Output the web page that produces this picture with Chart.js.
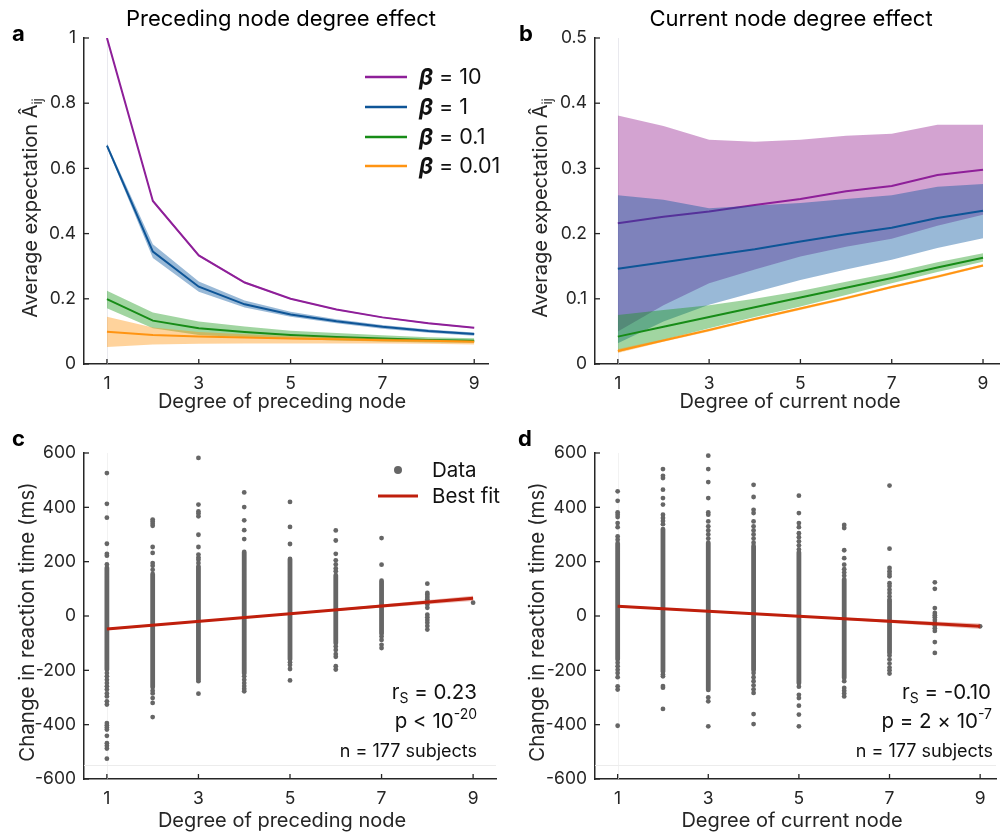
<!DOCTYPE html>
<html><head><meta charset="utf-8">
<script src="https://cdn.jsdelivr.net/npm/chart.js@4.4.0/dist/chart.umd.min.js"></script>
<style>
html,body{margin:0;padding:0;background:#fff}
body{width:1000px;height:835px;position:relative;overflow:hidden}
canvas{position:absolute}
</style></head><body>
<canvas id="ca" width="500" height="420" style="left:0;top:0"></canvas>
<canvas id="cb" width="500" height="420" style="left:500px;top:0"></canvas>
<canvas id="cc" width="500" height="415" style="left:0;top:420px"></canvas>
<canvas id="cd" width="500" height="415" style="left:500px;top:420px"></canvas>
<script>
// ---------------- DATA ----------------
const degrees = [1, 2, 3, 4, 5, 6, 7, 8, 9];
const xTicks = [1, 3, 5, 7, 9];
const yTicksA = [0, 0.2, 0.4, 0.6, 0.8, 1];
const yTicksB = [0, 0.1, 0.2, 0.3, 0.4, 0.5];
const yTicksRT = [-600, -400, -200, 0, 200, 400, 600];
const betaLabels = ['10', '1', '0.1', '0.01'];

// Panel a: preceding node degree effect
const aMean10 = [1.000, 0.500, 0.333, 0.250, 0.200, 0.167, 0.143, 0.125, 0.111];
const aLow10  = [0.997, 0.496, 0.330, 0.247, 0.198, 0.165, 0.141, 0.123, 0.109];
const aHigh10 = [1.000, 0.504, 0.336, 0.253, 0.202, 0.169, 0.145, 0.127, 0.113];
const aMean1  = [0.670, 0.345, 0.237, 0.183, 0.152, 0.131, 0.114, 0.101, 0.092];
const aLow1   = [0.664, 0.325, 0.222, 0.173, 0.145, 0.125, 0.108, 0.096, 0.087];
const aHigh1  = [0.676, 0.367, 0.253, 0.195, 0.160, 0.137, 0.120, 0.106, 0.097];
const aMean01 = [0.199, 0.133, 0.110, 0.098, 0.089, 0.083, 0.078, 0.074, 0.071];
const aLow01  = [0.171, 0.110, 0.089, 0.082, 0.077, 0.072, 0.069, 0.066, 0.065];
const aHigh01 = [0.225, 0.158, 0.130, 0.115, 0.102, 0.095, 0.088, 0.082, 0.079];
const aMean001 = [0.099, 0.089, 0.084, 0.081, 0.078, 0.076, 0.073, 0.071, 0.068];
const aLow001  = [0.052, 0.060, 0.062, 0.063, 0.063, 0.063, 0.063, 0.062, 0.060];
const aHigh001 = [0.145, 0.112, 0.098, 0.091, 0.086, 0.082, 0.078, 0.075, 0.072];

// Panel b: current node degree effect
const bMean10 = [0.216, 0.226, 0.234, 0.244, 0.253, 0.265, 0.273, 0.290, 0.298];
const bLow10  = [0.050, 0.090, 0.124, 0.145, 0.165, 0.180, 0.192, 0.212, 0.229];
const bHigh10 = [0.381, 0.365, 0.344, 0.341, 0.344, 0.350, 0.353, 0.367, 0.367];
const bMean1  = [0.146, 0.156, 0.166, 0.176, 0.188, 0.199, 0.209, 0.224, 0.235];
const bLow1   = [0.032, 0.065, 0.091, 0.110, 0.129, 0.145, 0.160, 0.178, 0.193];
const bHigh1  = [0.259, 0.252, 0.239, 0.243, 0.247, 0.253, 0.259, 0.272, 0.276];
const bMean01 = [0.042, 0.057, 0.072, 0.087, 0.102, 0.117, 0.132, 0.148, 0.163];
const bLow01  = [0.018, 0.037, 0.055, 0.072, 0.088, 0.106, 0.124, 0.141, 0.157];
const bHigh01 = [0.075, 0.083, 0.090, 0.100, 0.112, 0.126, 0.140, 0.156, 0.170];
const bMean001 = [0.020, 0.036, 0.052, 0.069, 0.085, 0.101, 0.118, 0.134, 0.151];
const bLow001  = [0.017, 0.034, 0.050, 0.067, 0.083, 0.099, 0.116, 0.132, 0.149];
const bHigh001 = [0.023, 0.038, 0.054, 0.071, 0.087, 0.103, 0.120, 0.136, 0.153];

// Panel c: change in RT vs degree of preceding node (ms)
// dense part of each column (points overlap into a solid strip): low / high
const cCoreLow  = [-198, -262, -234, -212, -160, -100, -65, null, null];
const cCoreHigh = [ 178,  155,  183,  236,  210,  150, 130, null, null];
// individual points outside the dense strip
const cPoints = [
  [526, 413, 362, 266, 229, 222, 190, -210, -222, -235, -247, -259, -271, -285, -296, -314, -326, -394, -402, -410, -418, -441, -468, -478, -488, -525],
  [355, 348, 340, 332, 254, 232, 195, 185, 170, -275, -285, -302, -320, -372],
  [582, 410, 385, 377, 367, 299, 254, 226, 215, 207, 195, -240, -286],
  [455, 401, 352, 316, 283, -222, -235, -247, -258, -268, -277],
  [420, 328, 265, -170, -180, -195, -237],
  [315, 278, 229, 205, 190, 175, 165, -112, -125, -140, -150, -185, -197],
  [287, 189, -75, -88, -106, -118],
  [119, 85, 78, 70, 62, 52, 42, 30, 5, -5, -15, -25, -37, -50],
  [49]
];
const fitX = [1, 5, 9];
const cFit = [-48, 8, 65];
const cFitLow = [-52, 6, 55];
const cFitHigh = [-44, 10, 75];

// Panel d: change in RT vs degree of current node (ms)
const dCoreLow  = [-160, -205, -272, -200, -248, -228, -136, null, null];
const dCoreHigh = [ 268,  320,  270,  258,  235,  135,   55, null, null];
const dPoints = [
  [459, 424, 381, 373, 364, 342, 327, 293, 281, -172, -185, -198, -210, -225, -259, -271, -404],
  [541, 516, 508, 465, 434, 410, 373, 361, 350, 338, -215, -222, -258, -264, -342],
  [590, 541, 493, 434, 381, 373, 348, 330, 315, 300, 285, -300, -314, -406],
  [483, 438, 391, 379, 348, 330, 315, 300, 285, 270, -210, -225, -240, -255, -270, -283, -361, -398],
  [443, 379, 342, 327, 305, 290, 275, 260, 245, -260, -290, -302, -330, -363, -406],
  [335, 324, 242, 213, 189, 172, 160, 148, -240, -265, -275, -285, -296],
  [480, 248, 177, 165, 155, 146, 121, 110, 97, 85, 72, 60, -145, -160, -175, -190, -200, -212],
  [124, 100, 29, 11, 3, -5, -15, -25, -35, -45, -55, -96, -136],
  [-38]
];
const dFit = [36, -1, -38];
const dFitLow = [32, -3, -48];
const dFitHigh = [40, 1, -28];

// ---------------- STYLE ----------------
const FONT = "Inter, 'Liberation Sans', Arial, sans-serif";
const AX = '#262626';
const COL = {
  purple: '#8E1F99', blue: '#0E5597', green: '#178C17', orange: '#FF9412',
  purpleF: 'rgba(150,35,145,0.42)', blueF: 'rgba(0,80,155,0.40)',
  greenF: 'rgba(20,150,20,0.40)', orangeF: 'rgba(255,150,20,0.42)',
  grey: '#666666', red: '#BF1F0C', redF: 'rgba(200,40,20,0.30)'
};
Chart.defaults.font.family = FONT;
Chart.defaults.color = AX;

function pts(xs, ys) { return xs.map((x, i) => ({ x: x, y: ys[i] })); }

function bandSeries(list, lineWidth) {
  const ds = [];
  list.forEach(s => {
    ds.push({ data: pts(degrees, s.low), borderWidth: 0, pointRadius: 0, fill: false, backgroundColor: 'rgba(0,0,0,0)' });
    ds.push({ data: pts(degrees, s.high), borderWidth: 0, pointRadius: 0, fill: '-1', backgroundColor: s.fill });
    ds.push({ data: pts(degrees, s.mean), borderWidth: lineWidth, borderColor: s.line, pointRadius: 0, fill: false, tension: 0 });
  });
  return ds;
}

function scatterSeries(coreLow, coreHigh, points, fit, fitLow, fitHigh) {
  const core = [];
  degrees.forEach((d, i) => {
    if (coreLow[i] != null) { core.push({ x: d, y: coreLow[i] }, { x: d, y: coreHigh[i] }, { x: d + 0.5, y: null }); }
  });
  const dots = [];
  degrees.forEach((d, i) => points[i].forEach(v => dots.push({ x: d, y: v })));
  return [
    { data: core, borderColor: COL.grey, borderWidth: 4.8, borderCapStyle: 'round', pointRadius: 0, spanGaps: false, fill: false },
    { data: dots, showLine: false, pointRadius: 2.4, pointBackgroundColor: COL.grey, pointBorderWidth: 0, fill: false },
    { data: pts(fitX, fitLow), borderWidth: 0, pointRadius: 0, fill: false, backgroundColor: 'rgba(0,0,0,0)' },
    { data: pts(fitX, fitHigh), borderWidth: 0, pointRadius: 0, fill: '-1', backgroundColor: COL.redF },
    { data: pts(fitX, fit), borderColor: COL.red, borderWidth: 3, pointRadius: 0, fill: false }
  ];
}

function setOrder(ds) { ds.forEach((d, i) => { d.order = ds.length - i; }); return ds; }

function richText(ctx, parts, x, y, align) {
  const ws = parts.map(p => { ctx.font = p.f; return ctx.measureText(p.t).width; });
  const total = ws.reduce((a, b) => a + b, 0);
  let cx = align === 'right' ? x - total : (align === 'center' ? x - total / 2 : x);
  ctx.textAlign = 'left';
  parts.forEach((p, i) => { ctx.font = p.f; ctx.fillText(p.t, cx, y + (p.dy || 0)); cx += ws[i]; });
}
function f(size, weight, style) { return (style || '') + ' ' + (weight || 'normal') + ' ' + size + 'px ' + FONT; }

function makeChart(id, o) {
  const ctx = document.getElementById(id).getContext('2d');
  return new Chart(ctx, {
    type: 'line',
    data: { datasets: setOrder(o.datasets) },
    options: {
      responsive: false, maintainAspectRatio: false, animation: false, devicePixelRatio: 1,
      layout: { padding: { left: 0, top: o.top, right: o.right, bottom: 0 } },
      plugins: { legend: { display: false }, tooltip: { enabled: false } },
      scales: {
        x: {
          type: 'linear', min: o.xMin, max: o.xMax,
          afterBuildTicks: s => { s.ticks = xTicks.map(v => ({ value: v })); },
          afterFit: s => { s.height = o.xHeight; },
          grid: { display: false, drawTicks: false },
          border: { display: true, color: AX, width: 1.5 },
          ticks: { padding: 9, font: { size: 17.5 }, color: AX, maxRotation: 0, autoSkip: false, callback: v => String(v) }
        },
        y: {
          type: 'linear', min: o.yMin, max: o.yMax,
          afterBuildTicks: s => { s.ticks = o.yTicks.map(v => ({ value: v })); },
          afterFit: s => { s.width = o.yWidth; },
          grid: { display: false, drawTicks: false },
          border: { display: true, color: AX, width: 1.5 },
          ticks: { padding: 8, font: { size: 17.5 }, color: AX, autoSkip: false, callback: v => String(v) }
        }
      }
    },
    plugins: [{
      id: 'decor',
      beforeDatasetsDraw(chart) {
        const c = chart.ctx, a = chart.chartArea, sx = chart.scales.x, sy = chart.scales.y;
        c.save();
        c.strokeStyle = o.faint || '#e9e9ee'; c.lineWidth = 1;
        const px = Math.round(sx.getPixelForValue(1)) + 0.5;
        c.beginPath(); c.moveTo(px, a.top); c.lineTo(px, a.bottom); c.stroke();
        if (o.hLine != null) {
          const py = Math.round(sy.getPixelForValue(o.hLine)) + 0.5;
          c.strokeStyle = '#ececec';
          c.beginPath(); c.moveTo(a.left, py); c.lineTo(a.right, py); c.stroke();
        }
        c.restore();
      },
      afterDraw(chart) {
        const c = chart.ctx, a = chart.chartArea, sx = chart.scales.x, sy = chart.scales.y;
        c.save();
        c.strokeStyle = AX; c.lineWidth = 1.3;
        xTicks.forEach(v => { const p = sx.getPixelForValue(v); c.beginPath(); c.moveTo(p, a.bottom); c.lineTo(p, a.bottom - 5); c.stroke(); });
        o.yTicks.forEach(v => { const p = sy.getPixelForValue(v); c.beginPath(); c.moveTo(a.left, p); c.lineTo(a.left + 5, p); c.stroke(); });
        c.fillStyle = '#000'; c.textBaseline = 'alphabetic';
        o.decor(c, chart);
        c.restore();
      }
    }]
  });
}

// ---------------- PANEL A ----------------
makeChart('ca', {
  xMin: 0.5, xMax: 9.3, yMin: 0, yMax: 1, yTicks: yTicksA,
  top: 38, right: 12, yWidth: 84, xHeight: 56,
  datasets: bandSeries([
    { mean: aMean10, low: aLow10, high: aHigh10, line: COL.purple, fill: COL.purpleF },
    { mean: aMean1, low: aLow1, high: aHigh1, line: COL.blue, fill: COL.blueF },
    { mean: aMean01, low: aLow01, high: aHigh01, line: COL.green, fill: COL.greenF },
    { mean: aMean001, low: aLow001, high: aHigh001, line: COL.orange, fill: COL.orangeF }
  ], 2),
  decor(c) {
    c.fillStyle = '#000';
    c.font = f(22); c.textAlign = 'center'; c.fillText('Preceding node degree effect', 281, 26);
    c.font = f(22, 'bold'); c.textAlign = 'left'; c.fillText('a', 12, 41);
    c.fillStyle = AX;
    c.font = f(20); c.textAlign = 'center'; c.fillText('Degree of preceding node', 282, 408);
    c.save(); c.translate(37, 208); c.rotate(-Math.PI / 2);
    richText(c, [{ t: 'Average expectation Â', f: f(20) }, { t: 'ij', f: f(13), dy: 5 }], 0, 0, 'center');
    c.restore();
    const cols = [COL.purple, COL.blue, COL.green, COL.orange];
    [77, 107, 137, 166].forEach((y, i) => {
      c.strokeStyle = cols[i]; c.lineWidth = 2.5;
      c.beginPath(); c.moveTo(365, y); c.lineTo(407, y); c.stroke();
      c.fillStyle = '#111'; c.textBaseline = 'middle';
      richText(c, [{ t: 'β', f: f(23, 'bold', 'italic') }, { t: ' = ' + betaLabels[i], f: f(21.5) }], 419, y + 1, 'left');
    });
  }
});

// ---------------- PANEL B ----------------
makeChart('cb', {
  xMin: 0.5, xMax: 9.35, yMin: 0, yMax: 0.5, yTicks: yTicksB,
  top: 38, right: 1, yWidth: 95, xHeight: 56,
  datasets: bandSeries([
    { mean: bMean10, low: bLow10, high: bHigh10, line: COL.purple, fill: COL.purpleF },
    { mean: bMean1, low: bLow1, high: bHigh1, line: COL.blue, fill: COL.blueF },
    { mean: bMean01, low: bLow01, high: bHigh01, line: COL.green, fill: COL.greenF },
    { mean: bMean001, low: bLow001, high: bHigh001, line: COL.orange, fill: COL.orangeF }
  ], 2),
  decor(c) {
    c.fillStyle = '#000';
    c.font = f(22); c.textAlign = 'center'; c.fillText('Current node degree effect', 291, 26);
    c.font = f(22, 'bold'); c.textAlign = 'left'; c.fillText('b', 19, 41);
    c.fillStyle = AX;
    c.font = f(20); c.textAlign = 'center'; c.fillText('Degree of current node', 290, 408);
    c.save(); c.translate(47, 208); c.rotate(-Math.PI / 2);
    richText(c, [{ t: 'Average expectation Â', f: f(20) }, { t: 'ij', f: f(13), dy: 5 }], 0, 0, 'center');
    c.restore();
  }
});

// ---------------- PANEL C ----------------
makeChart('cc', {
  xMin: 0.5, xMax: 9.5, yMin: -600, yMax: 600, yTicks: yTicksRT,
  top: 33, right: 3, yWidth: 84, xHeight: 56, hLine: -550, faint: '#f2f2f2',
  datasets: scatterSeries(cCoreLow, cCoreHigh, cPoints, cFit, cFitLow, cFitHigh),
  decor(c) {
    c.fillStyle = '#000';
    c.font = f(22, 'bold'); c.textAlign = 'left'; c.fillText('c', 12, 26);
    c.fillStyle = AX;
    c.font = f(20); c.textAlign = 'center'; c.fillText('Degree of preceding node', 282, 407);
    c.save(); c.translate(34, 202); c.rotate(-Math.PI / 2);
    c.font = f(20.5); c.textAlign = 'center'; c.fillText('Change in reaction time (ms)', 0, 0);
    c.restore();
    c.fillStyle = COL.grey; c.beginPath(); c.arc(398, 50, 4, 0, Math.PI * 2); c.fill();
    c.strokeStyle = COL.red; c.lineWidth = 3; c.beginPath(); c.moveTo(378, 76); c.lineTo(418, 76); c.stroke();
    c.fillStyle = '#111'; c.textBaseline = 'middle'; c.textAlign = 'left'; c.font = f(20.5);
    c.fillText('Data', 432, 51); c.fillText('Best fit', 432, 77);
    c.textBaseline = 'alphabetic';
    richText(c, [{ t: 'r', f: f(20.5) }, { t: 'S', f: f(14), dy: 4 }, { t: ' = 0.23', f: f(20.5) }], 477, 279, 'right');
    richText(c, [{ t: 'p < 10', f: f(20.5) }, { t: '-20', f: f(14), dy: -9 }], 477, 308, 'right');
    richText(c, [{ t: 'n = 177 subjects', f: f(18) }], 477, 337, 'right');
  }
});

// ---------------- PANEL D ----------------
makeChart('cd', {
  xMin: 0.5, xMax: 9.35, yMin: -600, yMax: 600, yTicks: yTicksRT,
  top: 33, right: 0, yWidth: 95, xHeight: 56, hLine: -550, faint: '#f2f2f2',
  datasets: scatterSeries(dCoreLow, dCoreHigh, dPoints, dFit, dFitLow, dFitHigh),
  decor(c) {
    c.fillStyle = '#000';
    c.font = f(22, 'bold'); c.textAlign = 'left'; c.fillText('d', 18, 26);
    c.fillStyle = AX;
    c.font = f(20); c.textAlign = 'center'; c.fillText('Degree of current node', 292, 407);
    c.save(); c.translate(44, 202); c.rotate(-Math.PI / 2);
    c.font = f(20.5); c.textAlign = 'center'; c.fillText('Change in reaction time (ms)', 0, 0);
    c.restore();
    c.fillStyle = '#111';
    richText(c, [{ t: 'r', f: f(20.5) }, { t: 'S', f: f(14), dy: 4 }, { t: ' = -0.10', f: f(20.5) }], 491, 279, 'right');
    richText(c, [{ t: 'p = 2 × 10', f: f(20.5) }, { t: '-7', f: f(14), dy: -9 }], 492, 308, 'right');
    richText(c, [{ t: 'n = 177 subjects', f: f(18) }], 493, 337, 'right');
  }
});
</script>
</body></html>
